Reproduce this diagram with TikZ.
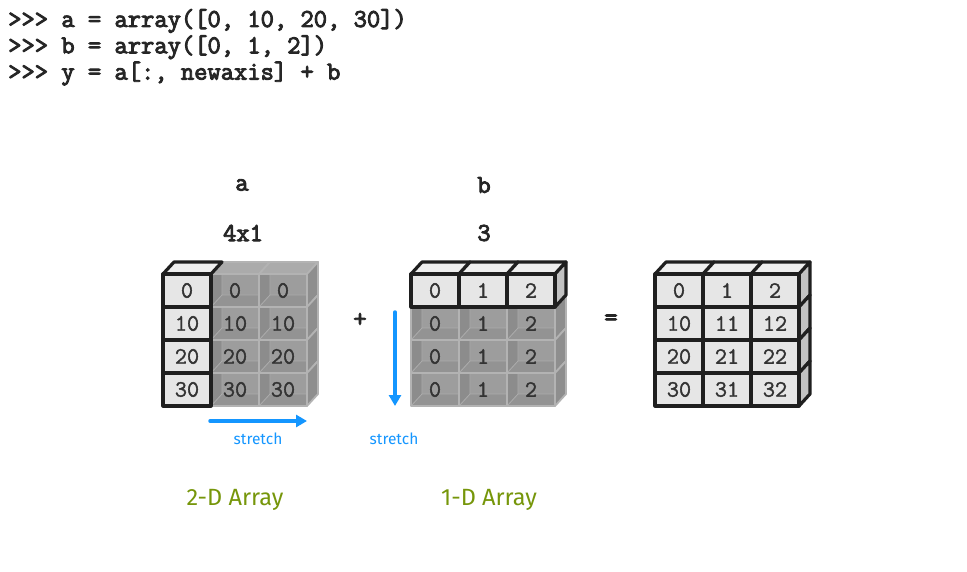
\documentclass[tikz,border=0pt]{standalone}
\usepackage{fontspec}
\setmainfont{Liberation Serif}
\setmonofont{Liberation Mono}
\setsansfont{Fira Sans}
\newfontfamily\codefont[FakeBold=3.5]{Latin Modern Mono}
\newfontfamily\cellfont[FakeBold=1.5]{Latin Modern Mono}
\usetikzlibrary{arrows.meta}
\definecolor{hifront}{HTML}{E6E6E6}
\definecolor{hitop}{HTML}{EFEFEF}
\definecolor{hiside}{HTML}{C2C2C2}
\definecolor{gback}{HTML}{9D9D9D}
\definecolor{gwall}{HTML}{8C8C8C}
\definecolor{gfloor}{HTML}{939393}
\definecolor{gedge}{HTML}{B3B3B3}
\definecolor{gtop}{HTML}{ABABAB}
\definecolor{gside}{HTML}{8E8E8E}
\definecolor{celltxt}{HTML}{333333}
\definecolor{strblue}{HTML}{1496FF}
\definecolor{arrgreen}{HTML}{76960A}
\newcommand{\GrayCell}[2]{\begin{scope}[shift={(#1,#2)}]
 \fill[gback] (0,0) rectangle (48,33);
 \fill[gwall] (0,0) -- (11,0) -- (11,21) -- (0,33) -- cycle;
 \fill[gfloor] (0,33) -- (11,21) -- (48,21) -- (48,33) -- cycle;
 \draw[ginner] (11,0) -- (11,21) -- (48,21) (0,33) -- (11,21);
 \draw[gframe] (0,0) rectangle (48,33);
\end{scope}}
\newcommand{\GrayTop}[2]{\draw[gframe, fill=gtop] (#1,#2) -- ++(11,-12) -- ++(48,0) -- ++(-11,12) -- cycle;}
\newcommand{\GraySide}[2]{\draw[gframe, fill=gside] (#1,#2) -- ++(11,-12) -- ++(0,33) -- ++(-11,12) -- cycle;}
\newcommand{\HiFront}[2]{\draw[hiedge, fill=hifront] (#1,#2) rectangle ++(48,33);}
\newcommand{\HiTop}[2]{\draw[hiedge, fill=hitop] (#1,#2) -- ++(11,-12) -- ++(48,0) -- ++(-11,12) -- cycle;}
\newcommand{\HiSide}[2]{\draw[hiedge, fill=hiside] (#1,#2) -- ++(11,-12) -- ++(0,33) -- ++(-11,12) -- cycle;}
\begin{document}
\begin{tikzpicture}[x=1pt,y=-1pt,
  hiedge/.style={draw=black!88,line width=3.2pt,line join=round},
  gframe/.style={draw=gedge,line width=1.8pt,line join=round},
  ginner/.style={draw=gedge!70!gback,line width=0.8pt},
  celltext/.style={font=\cellfont\fontsize{23.5}{23.5}\selectfont, text=celltxt, inner sep=0pt},
  codetext/.style={font=\codefont\fontsize{25.8}{25.8}\selectfont, anchor=base west, inner sep=0pt, text=black!85},
  lbltext/.style={font=\codefont\fontsize{25.8}{25.8}\selectfont, inner sep=0pt, text=black!85},
  stretchlbl/.style={font=\sffamily\fontsize{15.5}{15.5}\selectfont, text=strblue, inner sep=0pt},
  arrlbl/.style={font=\sffamily\fontsize{23.5}{23.5}\selectfont, text=arrgreen, inner sep=0pt, anchor=base},
  stretcharrow/.style={draw=strblue, line width=3.5pt, line cap=round, -{Triangle[length=11pt,width=12pt]}}]
\useasboundingbox (0,0) rectangle (967,572);
\fill[white] (0,0) rectangle (967,572);
% code
\node[codetext] (code1) at (8,27) {>>> a = array([0, 10, 20, 30])};
\node[codetext] (code2) at (8,53.3) {>>> b = array([0, 1, 2])};
\node[codetext] (code3) at (8,79.6) {>>> y = a[:, newaxis] + b};
% labels
\node[lbltext] (la) at (242,185) {a};
\node[lbltext] (lb) at (484,185) {b};
\node[lbltext] (lad) at (243,233) {4x1};
\node[lbltext] (lbd) at (484,233) {3};
\node[lbltext] (plus) at (360,320) {+};
\node[lbltext] (eq) at (611,320) {=};
% ---- left array (a stretched) ----
\foreach \ci in {1,2} {\GrayTop{163+48*\ci}{274}}
\foreach \ri in {0,...,3} {\GraySide{307}{274+33*\ri}}
\foreach \ci in {1,2} {\foreach \ri in {0,...,3} {\GrayCell{163+48*\ci}{274+33*\ri}}}
\HiTop{163}{274}
\foreach \ri in {0,...,3} {\HiFront{163}{274+33*\ri}}
\foreach \ri in {0,...,3} {\foreach \ci in {0,1,2} {
  \pgfmathtruncatemacro\cval{10*\ri}
  \node[celltext] (L\ri\ci) at ({163+48*\ci+24},{274+33*\ri+16.5}) {\cval};}}
% ---- middle array (b stretched) ----
\foreach \ri in {1,2,3} {\GraySide{555}{274+33*\ri}}
\foreach \ci in {0,1,2} {\foreach \ri in {1,2,3} {\GrayCell{411+48*\ci}{274+33*\ri}}}
\foreach \ci in {0,1,2} {\HiTop{411+48*\ci}{274}}
\HiSide{555}{274}
\foreach \ci in {0,1,2} {\HiFront{411+48*\ci}{274}}
\foreach \ri in {0,...,3} {\foreach \ci in {0,1,2} {
  \node[celltext] (M\ri\ci) at ({411+48*\ci+24},{274+33*\ri+16.5}) {\ci};}}
% ---- right array (result) ----
\foreach \ci in {0,1,2} {\HiTop{655+48*\ci}{274}}
\foreach \ri in {0,...,3} {\HiSide{799}{274+33*\ri}}
\foreach \ci in {0,1,2} {\foreach \ri in {0,...,3} {\HiFront{655+48*\ci}{274+33*\ri}}}
\foreach \ri in {0,...,3} {\foreach \ci in {0,1,2} {
  \pgfmathtruncatemacro\cval{10*\ri+\ci}
  \node[celltext] (R\ri\ci) at ({655+48*\ci+24},{274+33*\ri+16.5}) {\cval};}}
% ---- stretch arrows ----
\coordinate (hs) at (210,421);
\coordinate (he) at (307,421);
\draw[stretcharrow] (hs) -- (he);
\coordinate (vs) at (395,312);
\coordinate (ve) at (395,406);
\draw[stretcharrow] (vs) -- (ve);
\node[stretchlbl] (s1) at (258,439) {stretch};
\node[stretchlbl] (s2) at (394,439) {stretch};
% ---- array labels ----
\node[arrlbl] (twod) at (235,505) {2-D Array};
\node[arrlbl] (oned) at (489,505) {1-D Array};
\end{tikzpicture}
\end{document}
